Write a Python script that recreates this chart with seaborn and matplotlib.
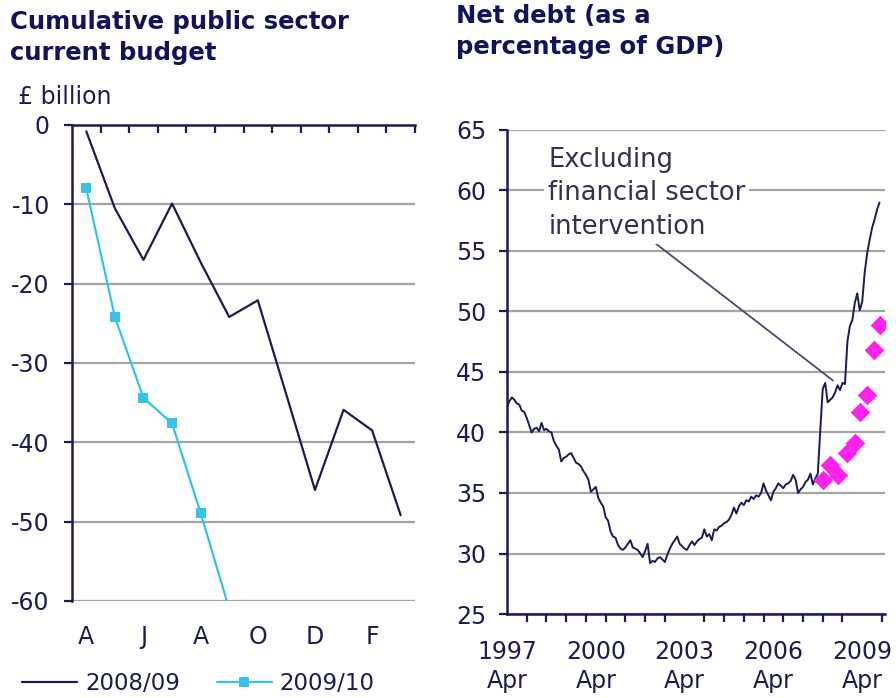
import numpy as np
import pandas as pd
import matplotlib
matplotlib.use("Agg")
import matplotlib.pyplot as plt
from matplotlib.lines import Line2D
import seaborn as sns

# ---------------- data ----------------
months = ["Apr", "May", "Jun", "Jul", "Aug", "Sep", "Oct", "Nov", "Dec", "Jan", "Feb", "Mar"]
month_letters = ["A", "M", "J", "J", "A", "S", "O", "N", "D", "J", "F", "M"]
budget_0809 = [-0.8, -10.5, -17.0, -9.9, -17.3, -24.2, -22.1, -34.0, -46.0, -35.9, -38.5, -49.2]
budget_0910 = [-8.0, -24.2, -34.4, -37.6, -48.9, -61.0]
budget_yticks = [0, -10, -20, -30, -40, -50, -60]

# Net debt, % of GDP, monthly from April 1997
net_debt = [
    42.1, 42.6, 42.9, 42.7, 42.4, 42.3, 41.8, 41.7, 41.2, 40.6, 40.0, 40.3,
    40.4, 40.1, 40.8, 40.2, 40.3, 40.1, 40.0, 39.3, 38.9, 38.6, 37.6, 37.9,
    38.0, 38.2, 38.3, 37.9, 37.5, 37.4, 37.2, 36.8, 36.5, 36.1, 35.1, 35.3,
    35.5, 34.6, 34.2, 33.9, 33.0, 32.7, 31.8, 31.4, 31.3, 30.7, 30.4, 30.3,
    30.5, 30.8, 31.1, 30.5, 30.4, 30.3, 30.0, 29.7, 30.2, 30.8, 29.2, 29.4,
    29.3, 29.6, 29.7, 29.5, 29.3, 29.9, 30.4, 30.8, 31.1, 31.4, 30.8, 30.6,
    30.4, 30.3, 30.7, 31.0, 30.7, 31.0, 31.2, 31.3, 32.0, 31.4, 31.6, 31.1,
    32.0, 31.9, 32.2, 32.3, 32.5, 32.6, 32.8, 33.2, 33.8, 33.3, 33.9, 34.2,
    34.0, 34.4, 34.3, 34.7, 34.5, 34.8, 34.7, 35.0, 35.8, 35.2, 34.8, 34.4,
    35.1, 35.4, 35.8, 35.6, 35.4, 35.7, 35.8, 36.0, 36.5, 36.1, 35.0, 35.3,
    35.5, 35.9, 36.1, 36.6, 35.7, 36.2, 36.6, 40.2, 43.6, 44.1, 42.5, 42.7,
    42.9, 43.3, 43.9, 43.5, 44.1, 44.0, 47.5, 48.8, 49.3, 50.7, 51.5, 50.1,
    50.8, 53.2, 54.8, 55.9, 56.9, 57.6, 58.4, 59.0,
]
debt_start_year = 1997.25  # April 1997
# Excluding financial sector intervention (month offsets from April 1997)
excl_month_offsets = [128, 131, 134, 138, 141, 143, 146, 148.7, 151.4]
excl_values = [36.1, 37.3, 36.5, 38.3, 39.1, 41.7, 43.1, 46.8, 48.9]
debt_yticks = [25, 30, 35, 40, 45, 50, 55, 60, 65]
year_labels = ["1997\nApr", "2000\nApr", "2003\nApr", "2006\nApr", "2009\nApr"]
year_label_pos = [1997.25, 2000.25, 2003.25, 2006.25, 2009.25]

# ---------------- styling ----------------
NAVY = "#1b1b55"
TEXT = "#1c1c50"
CYAN = "#36c3e6"
MAGENTA = "#ff22ee"
GRID = "#a3a3a3"

sns.set_theme(style="white")
plt.rcParams["font.family"] = ["DejaVu Sans"]

fig = plt.figure(figsize=(8.96, 6.98), dpi=100)
W, H = 896, 698

def axrect(x0, y0, x1, y1):
    return [x0 / W, 1 - y1 / H, (x1 - x0) / W, (y1 - y0) / H]

TICKFS = 17

# ---------------- left panel ----------------
axl = fig.add_axes(axrect(72, 125, 415, 601))
df1 = pd.DataFrame({"m": range(len(budget_0809)), "v": budget_0809})
df2 = pd.DataFrame({"m": range(len(budget_0910)), "v": budget_0910})
sns.lineplot(data=df1, x="m", y="v", ax=axl, color=NAVY, linewidth=1.6, legend=False, zorder=4)
sns.lineplot(data=df2, x="m", y="v", ax=axl, color=CYAN, linewidth=1.6, marker="s",
             markersize=7, markeredgewidth=0, legend=False, zorder=5)
axl.set_xlim(-0.5, 11.5)
axl.set_ylim(-60, 0)
axl.set_yticks(budget_yticks)
axl.set_yticklabels([str(v) for v in budget_yticks])
axl.set_xticks(list(range(0, 12, 2)))
axl.set_xticklabels(month_letters[0:12:2])
axl.set_xticks([i + 0.5 for i in range(12)], minor=True)
axl.tick_params(axis="x", which="major", bottom=True, top=False, length=0, pad=17,
                labelsize=TICKFS, labelcolor=TEXT)
axl.tick_params(axis="x", which="minor", bottom=False, top=True, direction="in", length=6,
                width=1.6, color=NAVY)
axl.tick_params(axis="y", which="major", left=True, direction="out", length=6, width=1.6,
                color=NAVY, pad=10, labelsize=TICKFS, labelcolor=TEXT)
axl.set_xlabel("")
axl.set_ylabel("")
axl.yaxis.grid(True, color=GRID, linewidth=1.6)
axl.xaxis.grid(False)
for s in ["right", "bottom"]:
    axl.spines[s].set_visible(False)
for s in ["left", "top"]:
    axl.spines[s].set_color(NAVY)
    axl.spines[s].set_linewidth(1.8)
    axl.spines[s].set_zorder(6)

# ---------------- right panel ----------------
axr = fig.add_axes(axrect(507, 130, 885, 614))
debt_x = [debt_start_year + i / 12 for i in range(len(net_debt))]
df3 = pd.DataFrame({"t": debt_x, "v": net_debt})
sns.lineplot(data=df3, x="t", y="v", ax=axr, color=NAVY, linewidth=1.4, legend=False, zorder=4)
df4 = pd.DataFrame({"t": [debt_start_year + m / 12 for m in excl_month_offsets], "v": excl_values})
sns.scatterplot(data=df4, x="t", y="v", ax=axr, color=MAGENTA, marker="D", s=100,
                linewidth=0, legend=False, zorder=5)
axr.set_xlim(debt_start_year, debt_start_year + 12.77)
axr.set_ylim(25, 65)
axr.set_yticks(debt_yticks)
axr.set_yticklabels([str(v) for v in debt_yticks])
axr.set_xticks(year_label_pos)
axr.set_xticklabels(year_labels, linespacing=1.25)
axr.set_xticks([debt_start_year + k * 8 / 12 for k in range(0, 20)], minor=True)
axr.tick_params(axis="x", which="major", bottom=True, length=0, pad=19,
                labelsize=TICKFS, labelcolor=TEXT)
axr.tick_params(axis="x", which="minor", bottom=True, direction="out", length=6,
                width=1.6, color=NAVY)
axr.tick_params(axis="y", which="major", left=True, direction="out", length=6, width=1.6,
                color=NAVY, pad=9, labelsize=TICKFS, labelcolor=TEXT)
axr.set_xlabel("")
axr.set_ylabel("")
axr.yaxis.grid(True, color=GRID, linewidth=1.6)
axr.xaxis.grid(False)
for s in ["right", "top"]:
    axr.spines[s].set_visible(False)
for s in ["left", "bottom"]:
    axr.spines[s].set_color(NAVY)
    axr.spines[s].set_linewidth(1.8)
    axr.spines[s].set_zorder(6)

axr.annotate("Excluding\nfinancial sector\nintervention",
             xy=(2008.26, 44.3), xycoords="data",
             xytext=(1998.64, 63.6), textcoords="data",
             ha="left", va="top", fontsize=18.5, color="#33334f", linespacing=1.37,
             bbox=dict(boxstyle="square,pad=0.15", fc="white", ec="none"),
             arrowprops=dict(arrowstyle="-", color="#4a4a70", lw=1.3,
                             shrinkA=0, shrinkB=0, relpos=(0.52, 0.0)),
             zorder=3)

# ---------------- titles & labels ----------------
fig.text(10 / W, 1 - 10 / H, "Cumulative public sector\ncurrent budget", ha="left", va="top",
         fontsize=17.5, fontweight="bold", color="#13135a", linespacing=1.36)
fig.text(456 / W, 1 - 4 / H, "Net debt (as a\npercentage of GDP)", ha="left", va="top",
         fontsize=17.5, fontweight="bold", color="#13135a", linespacing=1.36)
fig.text(18 / W, 1 - 97 / H, "£ billion", ha="left", va="center", fontsize=TICKFS, color=TEXT)

handles = [Line2D([], [], color=NAVY, lw=1.6),
           Line2D([], [], color=CYAN, lw=1.6, marker="s", markersize=7, markeredgewidth=0)]
fig.legend(handles, ["2008/09", "2009/10"], loc="center left",
           bbox_to_anchor=(22 / W, 1 - 684 / H), ncol=2, frameon=False,
           fontsize=16.5, labelcolor=TEXT, handlelength=2.4, handletextpad=0.35,
           columnspacing=1.6, borderpad=0, borderaxespad=0)

fig.savefig("out.png", dpi=100, facecolor="white")
